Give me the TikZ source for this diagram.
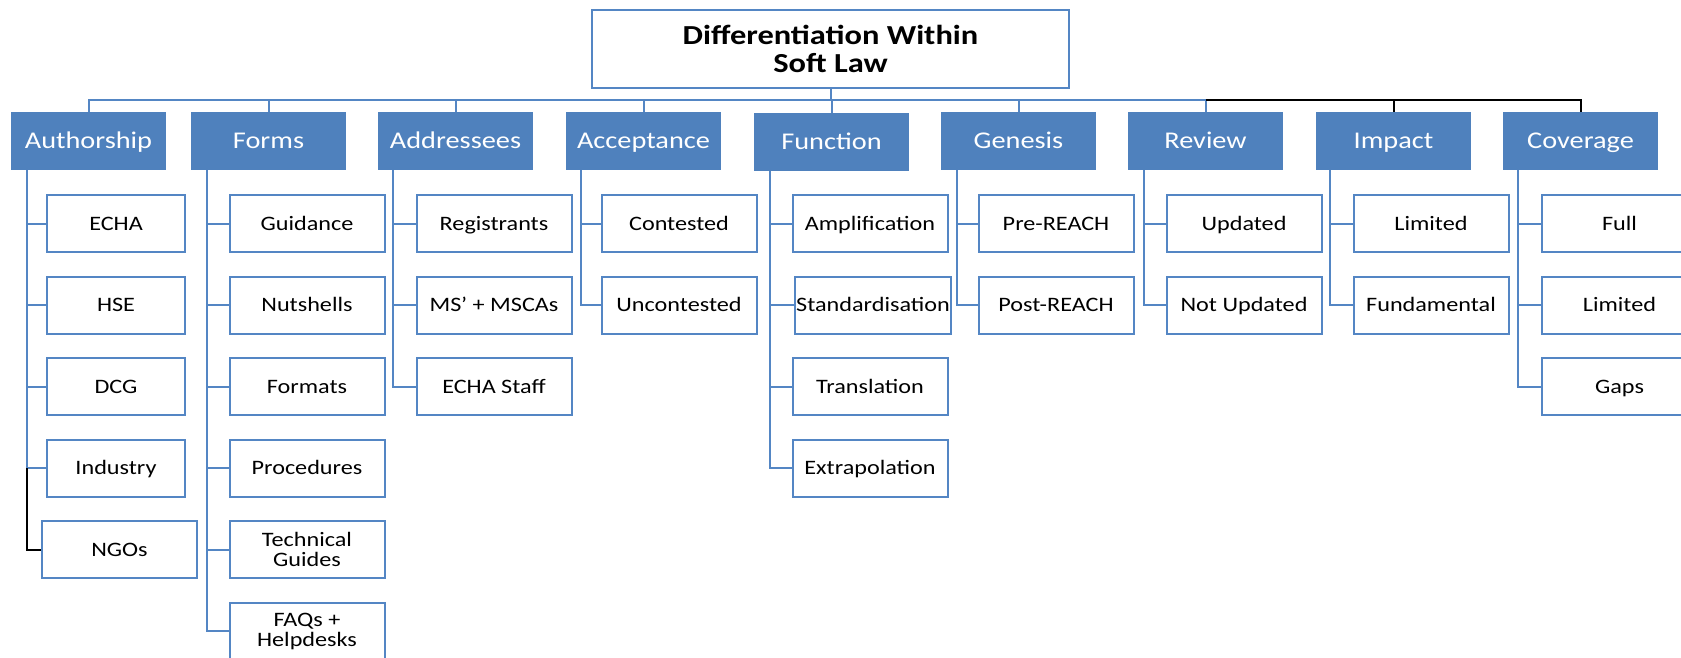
\documentclass[tikz,border=0pt]{standalone}
\usepackage{fontspec}
\setmainfont{Carlito}[FakeStretch=1.18]
\definecolor{catblue}{RGB}{79,129,189}
\definecolor{lineblue}{RGB}{84,134,196}
\tikzset{
  headbox/.style={draw=lineblue, line width=2pt, fill=white, minimum width=477pt,
    minimum height=78pt, align=center, font=\fontsize{27.5}{28}\selectfont\bfseries},
  catbox/.style={fill=catblue, text=white, minimum width=155pt, minimum height=58pt,
    text height=17pt, text depth=2pt, font=\fontsize{24}{26}\selectfont},
  leafpair/.style={draw=lineblue, line width=2pt, fill=white, minimum width=155pt,
    minimum height=57pt, align=center, inner sep=1pt, font=\fontsize{20.5}{20}\selectfont},
  leaf/.style={leafpair, text height=15pt, text depth=2pt},
  link/.style={draw=lineblue, line width=2pt},
  blk/.style={draw=black, line width=2pt},
}
\begin{document}
\begin{tikzpicture}[x=1pt,y=-1pt]
    \useasboundingbox (0,0) rectangle (1681,658);
    \node (top) [headbox] at (830.5,49) {Differentiation Within\\Soft Law};
    \coordinate (bus) at (0,100);

    \node (auth) [catbox] at (88.5,141) {Authorship};
    \node (form) [catbox] at (268.5,141) {Forms};
    \node (addr) [catbox] at (455.5,141) {Addressees};
    \node (acc) [catbox] at (643.5,141) {Acceptance};
    \node (func) [catbox] at (831.5,142) {Function};
    \node (gen) [catbox] at (1018.5,141) {Genesis};
    \node (rev) [catbox] at (1205.5,141) {Review};
    \node (imp) [catbox] at (1393.5,141) {Impact};
    \node (cov) [catbox] at (1580.5,141) {Coverage};

    \draw[link] (top.south) -- (top.south |- bus) -| (auth.north);
    \draw[link] (top.south |- bus) -| (form.north);
    \draw[link] (top.south |- bus) -| (addr.north);
    \draw[link] (top.south |- bus) -| (acc.north);
    \draw[link] (top.south |- bus) -| (func.north);
    \draw[link] (top.south |- bus) -| (gen.north);
    \draw[link] (top.south |- bus) -| (rev.north);
    \draw[blk] (bus -| rev.north) -| (imp.north);
    \draw[blk] (bus -| imp.north) -| (cov.north);

    % Authorship
    \node (echa) [leaf, minimum width=138pt] at (116,223.5) {ECHA};
    \node (hse) [leaf, minimum width=138pt] at (116,305) {HSE};
    \node (dcg) [leaf, minimum width=138pt] at (116,386.5) {DCG};
    \node (ind) [leaf, minimum width=138pt] at (116,468) {Industry};
    \node (ngo) [leaf] at (119.5,549.5) {NGOs};
    \coordinate (authx) at ([xshift=16pt]auth.south west);
    \draw[link] (authx) |- (echa.west);
    \draw[link] (authx) |- (hse.west);
    \draw[link] (authx) |- (dcg.west);
    \draw[link] (authx) |- (ind.west);
    \draw[blk] (authx |- ind.west) |- (ngo.west);

    % Forms
    \node (guid) [leaf] at (307,223.5) {Guidance};
    \node (nuts) [leaf] at (307,305) {Nutshells};
    \node (fmts) [leaf] at (307,386.5) {Formats};
    \node (proc) [leaf] at (307,468) {Procedures};
    \node (tech) [leafpair] at (307,549.5) {Technical\\Guides};
    \node (faqs) [leafpair] at (307,631) {FAQs +\\Helpdesks};
    \coordinate (formx) at ([xshift=16pt]form.south west);
    \draw[link] (formx) |- (guid.west);
    \draw[link] (formx) |- (nuts.west);
    \draw[link] (formx) |- (fmts.west);
    \draw[link] (formx) |- (proc.west);
    \draw[link] (formx) |- (tech.west);
    \draw[link] (formx) |- (faqs.west);

    % Addressees
    \node (regi) [leaf] at (494,223.5) {Registrants};
    \node (msca) [leaf] at (494,305) {MS’ + MSCAs};
    \node (staff) [leaf] at (494,386.5) {ECHA Staff};
    \coordinate (addrx) at ([xshift=15pt]addr.south west);
    \draw[link] (addrx) |- (regi.west);
    \draw[link] (addrx) |- (msca.west);
    \draw[link] (addrx) |- (staff.west);

    % Acceptance
    \node (cont) [leaf] at (679,223.5) {Contested};
    \node (unco) [leaf] at (679,305) {Uncontested};
    \coordinate (accx) at ([xshift=15pt]acc.south west);
    \draw[link] (accx) |- (cont.west);
    \draw[link] (accx) |- (unco.west);

    % Function
    \node (ampl) [leaf] at (870,223.5) {Amplification};
    \node (stand) [leaf] at (873,305) {Standardisation};
    \node (trans) [leaf] at (870,386.5) {Translation};
    \node (extra) [leaf] at (870,468) {Extrapolation};
    \coordinate (funcx) at ([xshift=16pt]func.south west);
    \draw[link] (funcx) |- (ampl.west);
    \draw[link] (funcx) |- (stand.west);
    \draw[link] (funcx) |- (trans.west);
    \draw[link] (funcx) |- (extra.west);

    % Genesis
    \node (pre) [leaf] at (1056,223.5) {Pre-REACH};
    \node (post) [leaf] at (1056,305) {Post-REACH};
    \coordinate (genx) at ([xshift=16pt]gen.south west);
    \draw[link] (genx) |- (pre.west);
    \draw[link] (genx) |- (post.west);

    % Review
    \node (upd) [leaf] at (1244,223.5) {Updated};
    \node (nupd) [leaf] at (1244,305) {Not Updated};
    \coordinate (revx) at ([xshift=16pt]rev.south west);
    \draw[link] (revx) |- (upd.west);
    \draw[link] (revx) |- (nupd.west);

    % Impact
    \node (lim) [leaf] at (1431,223.5) {Limited};
    \node (fund) [leaf] at (1431,305) {Fundamental};
    \coordinate (impx) at ([xshift=14pt]imp.south west);
    \draw[link] (impx) |- (lim.west);
    \draw[link] (impx) |- (fund.west);

    % Coverage
    \node (full) [leaf] at (1619.5,223.5) {Full};
    \node (clim) [leaf] at (1619.5,305) {Limited};
    \node (gaps) [leaf] at (1619.5,386.5) {Gaps};
    \coordinate (covx) at ([xshift=15pt]cov.south west);
    \draw[link] (covx) |- (full.west);
    \draw[link] (covx) |- (clim.west);
    \draw[link] (covx) |- (gaps.west);
\end{tikzpicture}
\end{document}
